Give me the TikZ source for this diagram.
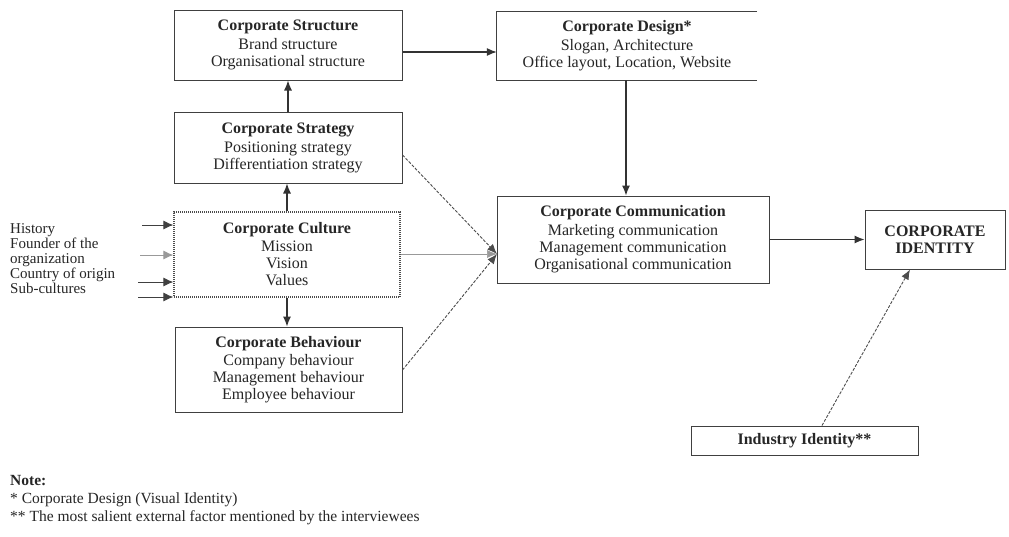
\documentclass[tikz,border=0pt]{standalone}
\usepackage{fontspec}
\setmainfont{Liberation Serif}
\usetikzlibrary{arrows.meta}
\begin{document}
\begin{tikzpicture}[x=1pt,y=-1pt,
  every node/.style={font=\fontsize{16}{17}\selectfont, text=black!85},
  boxA/.style={draw=black!75, line width=1pt, align=center, inner sep=0pt},
  arr/.style={-{Latex[length=10pt,width=8pt]}, line width=1.1pt, draw=black!80},
  darr/.style={-{Latex[length=10pt,width=8pt]}, line width=0.9pt, draw=black!70, dash pattern=on 3pt off 1.5pt},
  inarr/.style={-{Latex[length=10pt,width=9pt]}, line width=1pt, draw=black!75},
  lbl/.style={anchor=west, inner sep=0pt, font=\rmfamily\fontsize{15.5}{16}\selectfont}]
\useasboundingbox (0,0) rectangle (1009,536);
\fill[white] (0,0) rectangle (1009,536);

% boxes
\node[boxA, minimum width=228pt, minimum height=70pt] (struct) at (288,45)
  {{\bfseries Corporate Structure}\\[2pt] Brand structure\\ Organisational structure};
\node[boxA, minimum width=228pt, minimum height=71pt] (strat) at (288,147.5)
  {{\bfseries Corporate Strategy}\\[2pt] Positioning strategy\\ Differentiation strategy};
\node[boxA, draw=black!70, densely dotted, line width=1.2pt, minimum width=226pt, minimum height=85pt] (cult) at (287,254.5)
  {{\bfseries Corporate Culture}\\[1pt] Mission\\ Vision\\ Values};
\node[boxA, minimum width=227pt, minimum height=85pt] (behav) at (288.5,369.5)
  {{\bfseries Corporate Behaviour}\\[1pt] Company behaviour\\ Management behaviour\\ Employee behaviour};
\node[align=center, inner sep=0pt, minimum width=260pt, minimum height=68pt] (design) at (627,46)
  {{\bfseries Corporate Design*}\\[2pt] Slogan, Architecture\\ Office layout, Location, Website};
\draw[draw=black!75, line width=1pt] (design.north east) -- (design.north west) -- (design.south west) -- (design.south east);
\node[boxA, minimum width=272pt, minimum height=87pt] (comm) at (633,239.5)
  {{\bfseries Corporate Communication}\\[2pt] Marketing communication\\ Management communication\\ Organisational communication};
\node[boxA, minimum width=140pt, minimum height=59pt] (ident) at (935,239.5)
  {\bfseries CORPORATE\\\bfseries IDENTITY};
\node[boxA, minimum width=227pt, minimum height=29pt] (indus) at (804.5,440.5)
  {\bfseries Industry Identity**};

% connectors
\draw[arr] (struct.east |- 0,52) -- (design.west |- 0,52);
\draw[arr] (strat.north) -- (struct.south);
\draw[arr] (cult.north) -- (cult.north |- strat.south);
\draw[arr] (cult.south) -- (cult.south |- behav.north);
\draw[arr] (design.south -| 626,0) -- (comm.north -| 626,0);
\draw[arr] (comm.east) -- (ident.west);
\draw[darr] (indus.north -| 822,0) -- (ident.south -| 910,0);

\coordinate (conv) at (497,254);
\draw[darr] (strat.east |- 0,155) -- (conv);
\draw[-{Latex[length=10pt,width=8pt]}, line width=0.6pt, draw=black!40] (cult.east |- conv) -- (conv);
\draw[darr] (behav.east |- 0,370) -- (conv);

% left inputs
\node[anchor=north west, inner sep=0pt, align=left, font=\rmfamily\fontsize{15}{15}\selectfont] (inputs) at (10,223)
  {History\\ Founder of the\\ organization\\ Country of origin\\ Sub-cultures};
\coordinate (h0) at (142,225);
\coordinate (f0) at (140,255);
\coordinate (c0) at (138,282);
\coordinate (s0) at (138,297);
\draw[inarr] (h0) -- (h0 -| cult.west);
\draw[inarr, draw=black!40] (f0) -- (f0 -| cult.west);
\draw[inarr] (c0) -- (c0 -| cult.west);
\draw[inarr] (s0) -- (s0 -| cult.west);

% notes
\node[lbl, font=\rmfamily\fontsize{15.5}{16}\selectfont\bfseries] (note) at (10,481) {Note:};
\node[lbl] (n1) at (10,500) {* Corporate Design (Visual Identity)};
\node[lbl] (n2) at (10,518) {** The most salient external factor mentioned by the interviewees};
\end{tikzpicture}
\end{document}
